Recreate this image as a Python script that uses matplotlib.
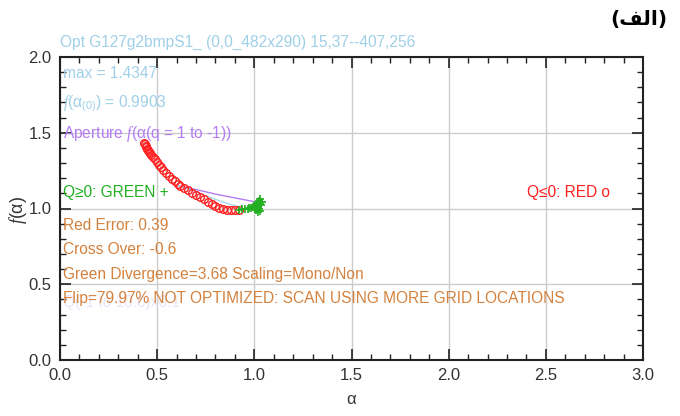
import matplotlib
matplotlib.use("Agg")
import matplotlib.pyplot as plt
from matplotlib.ticker import MultipleLocator
from matplotlib import font_manager

names = {f.name for f in font_manager.fontManager.ttflist}
NARROW = "Liberation Sans Narrow" if "Liberation Sans Narrow" in names else "Liberation Sans"

plt.rcParams['font.family'] = [NARROW, 'DejaVu Sans']
plt.rcParams['mathtext.fontset'] = 'custom'
plt.rcParams['mathtext.it'] = 'Liberation Serif:italic'
plt.rcParams['mathtext.rm'] = NARROW

# ---- data ----
red_alpha = [0.43, 0.435, 0.44, 0.445, 0.45, 0.455, 0.46, 0.465, 0.47, 0.48, 0.49, 0.50,
             0.51, 0.52, 0.53, 0.545, 0.56, 0.575, 0.59, 0.605, 0.62, 0.64, 0.66, 0.68,
             0.70, 0.72, 0.74, 0.76, 0.78, 0.80, 0.82, 0.84, 0.86, 0.88, 0.90, 0.92]
red_f = [1.435, 1.425, 1.415, 1.405, 1.395, 1.385, 1.375, 1.365, 1.355, 1.34, 1.325, 1.31,
         1.29, 1.275, 1.255, 1.235, 1.215, 1.195, 1.18, 1.165, 1.15, 1.135, 1.12, 1.105,
         1.09, 1.075, 1.06, 1.045, 1.03, 1.015, 1.005, 0.998, 0.993, 0.99, 0.99, 0.99]

green_alpha = [0.92, 0.935, 0.95, 0.965, 0.975, 0.985, 0.995, 1.0, 1.005, 1.01, 1.01, 1.015,
               1.015, 1.02, 1.02, 1.025, 1.025, 1.03, 1.03, 1.035, 1.035, 1.04, 1.02, 1.03]
green_f = [0.99, 0.995, 0.997, 1.0, 1.003, 1.005, 1.01, 1.015, 1.0, 1.02, 0.99, 1.03,
           1.005, 1.04, 1.01, 1.05, 0.995, 1.03, 1.06, 1.02, 1.045, 1.04, 0.98, 0.985]

aperture_alpha = [0.61, 0.70, 0.80, 0.90, 1.00, 1.03]
aperture_f = [1.15, 1.125, 1.095, 1.07, 1.045, 1.04]

blue_alpha = [0.61, 0.70, 0.80, 0.88, 0.93]
blue_f = [1.15, 1.11, 1.06, 1.025, 1.01]

x_ticks = [0.0, 0.5, 1.0, 1.5, 2.0, 2.5, 3.0]
y_ticks = [0.0, 0.5, 1.0, 1.5, 2.0]

LBLUE = '#9fd0e8'
PURPLE = '#b37cf2'
GREEN = '#22b022'
ORANGE = '#d4823e'
RED = '#ff2020'

W, H = 680, 416
fig = plt.figure(figsize=(W / 100, H / 100), dpi=100)
ax = fig.add_axes([60 / W, 1 - 360 / H, (643 - 60) / W, (360 - 57) / H])

ax.set_xlim(0, 3.0)
ax.set_ylim(0, 2.0)
ax.set_xticks(x_ticks)
ax.set_yticks(y_ticks)
ax.set_xticklabels([f"{v:.1f}" for v in x_ticks])
ax.set_yticklabels([f"{v:.1f}" for v in y_ticks])
ax.xaxis.set_minor_locator(MultipleLocator(0.1))
ax.yaxis.set_minor_locator(MultipleLocator(0.1))
ax.tick_params(which='both', direction='in', top=True, right=True, colors='#222222',
               labelsize=12, labelcolor='#333333')
ax.tick_params(which='major', length=8, width=1.2, pad=6)
ax.tick_params(which='minor', length=4, width=1.0)
for s in ax.spines.values():
    s.set_linewidth(1.5)
    s.set_color('#222222')
ax.grid(True, which='major', color='#cccccc', linewidth=1.0)
ax.set_axisbelow(True)

ax.plot(aperture_alpha, aperture_f, color=PURPLE, lw=1.0, zorder=3)
ax.plot(blue_alpha, blue_f, color='#a8d8ec', lw=1.0, zorder=3)
ax.plot(red_alpha, red_f, 'o', mfc='none', mec=RED, ms=5.5, mew=1.0, zorder=4)
ax.plot(green_alpha, green_f, '+', color=GREEN, ms=6, mew=1.2, zorder=5)

ax.set_xlabel('α', fontsize=12, color='#333333', labelpad=6)
fig.text(18 / W, 1 - 210 / H, r'$f$(α)', rotation=90, fontsize=13, color='#333333',
         ha='center', va='center')

def t(x, y, s, c, fs=11.2, **kw):
    fig.text(x / W, 1 - y / H, s, color=c, fontsize=fs, va='center', ha='left', **kw)

t(60, 42, 'Opt G127g2bmpS1_ (0,0_482x290) 15,37--407,256', LBLUE)
t(63, 73, 'max = 1.4347', LBLUE)
t(63, 104, r'$f$(α$_{(0)}$) = 0.9903', LBLUE)
t(63, 134, r'Aperture $f$(α(q = 1 to -1))', PURPLE)
t(63, 193, 'Q≥0: GREEN +', GREEN)
t(527, 193, 'Q≤0: RED o', RED)
t(63, 302, 'Q(-1 to 10.0)x0.1', '#ece4f8')
t(63, 226, 'Red Error: 0.39', ORANGE)
t(63, 250, 'Cross Over: -0.6', ORANGE)
t(63, 274, 'Green Divergence=3.68 Scaling=Mono/Non', ORANGE)
t(63, 298, 'Flip=79.97% NOT OPTIMIZED: SCAN USING MORE GRID LOCATIONS', ORANGE)

# Arabic label "(الف)" written with presentation forms so it renders joined
fig.text(667 / W, 1 - 20 / H, '(\uFED2\uFEDF\uFE8D)', family='DejaVu Sans', weight='bold',
         fontsize=14.5, ha='right', va='center', color='black')

fig.savefig('out.png', dpi=100)
